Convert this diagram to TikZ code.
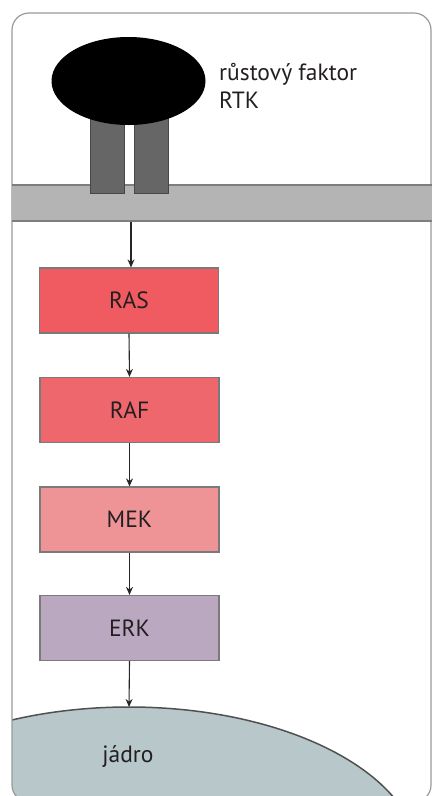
\documentclass[tikz,border=0pt]{standalone}
\usepackage{fontspec}
\setmainfont{PT Sans}
\usetikzlibrary{arrows.meta}
\definecolor{frameline}{HTML}{9A9A9A}
\definecolor{membrane}{HTML}{B4B4B4}
\definecolor{membraneedge}{HTML}{7E7E7E}
\definecolor{receptor}{HTML}{666666}
\definecolor{receptoredge}{HTML}{474747}
\definecolor{rascol}{HTML}{F05B61}
\definecolor{rafcol}{HTML}{EE676D}
\definecolor{mekcol}{HTML}{EE9396}
\definecolor{erkcol}{HTML}{BAA8C0}
\definecolor{boxedge}{HTML}{7A7A7A}
\definecolor{nucleus}{HTML}{B7C7CA}
\definecolor{nucleusedge}{HTML}{505050}
\definecolor{textcol}{HTML}{231F20}
\tikzset{
  kinase/.style={draw=boxedge, line width=1.2pt, minimum width=179pt,
    minimum height=65pt, inner sep=0pt, font=\fontsize{23.5}{26}\selectfont,
    text=textcol},
  signal/.style={-{Stealth[length=8pt,width=7pt]}, line width=1.1pt, draw=black!85},
  label/.style={font=\fontsize{23.5}{28}\selectfont, text=textcol, align=left,
    inner sep=0pt, anchor=north west}
}
\begin{document}
\begin{tikzpicture}[x=1pt,y=-1pt]
  \useasboundingbox (0,0) rectangle (432,796);
  \begin{scope}
    \clip (0,0) rectangle (432,796);
    % nucleus, kept inside the rounded frame
    \begin{scope}
      \clip[rounded corners=17pt] (12,13) rectangle (431,802);
      \fill[nucleus] (129,860) ellipse [x radius=290, y radius=153];
      \draw[nucleusedge, line width=1.5pt] (129,860) ellipse [x radius=290, y radius=153];
    \end{scope}
    % rounded frame
    \draw[frameline, line width=1.2pt, rounded corners=17pt] (12,13) rectangle (431,802);
    % cell membrane
    \fill[membrane] (12,184) rectangle (432,222);
    \draw[membraneedge, line width=2pt] (12,185) -- (432,185);
    \draw[membraneedge, line width=2pt] (12,221) -- (432,221);
    \coordinate (mem) at (131,222);
    % receptor RTK
    \draw[receptoredge, fill=receptor, line width=1pt] (90,105) rectangle (124,193);
    \draw[receptoredge, fill=receptor, line width=1pt] (134,105) rectangle (168,193);
    % growth factor
    \fill[black] (128.5,81) ellipse [x radius=77, y radius=44];
  \end{scope}
  \node[label] (gf) at (219,63) {růstový faktor\\RTK};

  % kinase cascade
  \node[kinase, fill=rascol] (ras) at (129,300.5) {RAS};
  \node[kinase, fill=rafcol] (raf) at (129.5,410) {RAF};
  \node[kinase, fill=mekcol] (mek) at (129.5,519.5) {MEK};
  \node[kinase, fill=erkcol] (erk) at (129.5,628) {ERK};
  \node[font=\fontsize{23.5}{26}\selectfont, text=textcol] (nuc) at (128,757) {jádro};
  \coordinate (nuctop) at (129,707);

  \draw[signal] (mem) -- (mem |- ras.north);
  \draw[signal] (ras.south) -- (raf.north);
  \draw[signal] (raf.south) -- (mek.north);
  \draw[signal] (mek.south) -- (erk.north);
  \draw[signal] (erk.south) -- (nuctop);
\end{tikzpicture}
\end{document}
